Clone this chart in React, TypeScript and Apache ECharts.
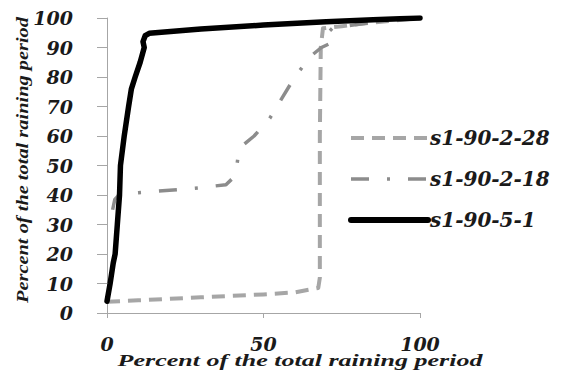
import React, { useEffect, useRef } from "react";
import * as echarts from "echarts";

// Cumulative curves: x = percent of the total raining period, y = percent of the total
const seriesNames = ["s1-90-2-28", "s1-90-2-18", "s1-90-5-1"];

const s2_28_x = [0, 10, 20, 30, 40, 50, 60, 67.5, 68, 68, 68.3, 69, 75, 85, 100];
const s2_28_y = [3.8, 4.3, 4.8, 5.3, 5.8, 6.3, 7, 8.5, 12, 60, 90, 96.5, 97.2, 98.5, 100];

const s2_18_x = [1.8, 2.5, 4, 10, 20, 30, 38, 40.5, 41.5, 42, 43, 47, 52, 56, 60, 65, 68.5, 71.5, 72, 70.5, 72, 78, 88, 100];
const s2_18_y = [35, 38.5, 40.2, 40.8, 41.6, 42.5, 43.5, 46, 50, 54, 56.5, 60, 66, 73, 80, 87, 90, 91.5, 93, 95, 96.5, 97.5, 99, 100];

const s5_1_x = [0, 1, 2, 2.6, 3.3, 4, 4.3, 5.5, 6.9, 7.8, 9, 10.6, 11.9, 11.5, 12.2, 13.5, 30, 50, 70, 85, 100];
const s5_1_y = [4, 10, 17, 20, 30, 40, 50, 60, 70, 76, 80, 85, 90, 92, 94, 94.8, 96.3, 97.6, 98.7, 99.4, 100];

const xTicks = [0, 50, 100];
const yTicks = [0, 10, 20, 30, 40, 50, 60, 70, 80, 90, 100];

const axisTitle = "Percent of the total raining period";

const pair = (xs: number[], ys: number[]) => xs.map((x, i) => [x, ys[i]]);

const tickFont = "'DejaVu Serif', 'Liberation Serif', serif";
const titleFont = "'Liberation Serif', 'Times New Roman', serif";

const styles = [
  { color: "#a6a6a6", width: 4, type: [13, 8] },
  { color: "#8c8c8c", width: 3.5, type: [18, 18, 3, 18] },
  { color: "#000000", width: 5.5, type: "solid" },
];

export default function App() {
  const ref = useRef<HTMLDivElement>(null);

  useEffect(() => {
    if (!ref.current) return;
    const chart = echarts.init(ref.current, undefined, { renderer: "svg" });
    const labelStyle = {
      fontFamily: tickFont,
      fontWeight: "bold" as const,
      fontStyle: "italic" as const,
      fontSize: 19,
      color: "#1a1a1a",
    };
    chart.setOption({
      animation: false,
      backgroundColor: "#ffffff",
      grid: { left: 107, right: 150, top: 18, bottom: 59, outerBoundsMode: "none", containLabel: false },
      xAxis: {
        type: "value",
        min: xTicks[0],
        max: xTicks[xTicks.length - 1],
        interval: 50,
        axisLine: { show: true, lineStyle: { color: "#a6a6a6", width: 1 } },
        axisTick: { show: true, length: 5, lineStyle: { color: "#a6a6a6" } },
        splitLine: { show: false },
        axisLabel: { ...labelStyle, margin: 21 },
      },
      yAxis: {
        type: "value",
        min: yTicks[0],
        max: yTicks[yTicks.length - 1],
        interval: 10,
        axisLine: { show: true, lineStyle: { color: "#a6a6a6", width: 1 } },
        axisTick: { show: true, length: 10, lineStyle: { color: "#a6a6a6" } },
        splitLine: { show: false },
        axisLabel: { ...labelStyle, margin: 34 },
      },
      legend: {
        orient: "vertical",
        left: 343,
        top: 123,
        itemWidth: 77,
        itemHeight: 16,
        itemGap: 21,
        itemStyle: { opacity: 0 },
        data: seriesNames.map((name, i) => ({
          name,
          lineStyle: { width: i === 2 ? 6 : styles[i].width },
          itemStyle: { opacity: 0 },
        })),
        textStyle: { ...labelStyle, fontSize: 20, padding: [0, 0, 0, -3] },
      },
      series: seriesNames.map((name, i) => ({
        name,
        type: "line",
        data: [pair(s2_28_x, s2_28_y), pair(s2_18_x, s2_18_y), pair(s5_1_x, s5_1_y)][i],
        symbol: "none",
        lineStyle: { ...styles[i], cap: i === 2 ? "round" : "butt", join: "round" },
        itemStyle: { color: styles[i].color },
        z: 2 + i,
      })),
      graphic: [
        {
          type: "text",
          x: 300,
          y: 360,
          scaleX: 1.53,
          style: {
            text: axisTitle,
            font: `italic bold 17px ${titleFont}`,
            fill: "#1a1a1a",
            align: "center",
            verticalAlign: "middle",
          },
        },
        {
          type: "text",
          x: 22,
          y: 160,
          rotation: Math.PI / 2,
          scaleX: 1.2,
          style: {
            text: axisTitle,
            font: `italic bold 17px ${titleFont}`,
            fill: "#1a1a1a",
            align: "center",
            verticalAlign: "middle",
          },
        },
      ],
    });
    return () => chart.dispose();
  }, []);

  return (
    <div
      ref={ref}
      style={{ position: "fixed", left: 0, top: 0, width: 570, height: 372 }}
    />
  );
}
